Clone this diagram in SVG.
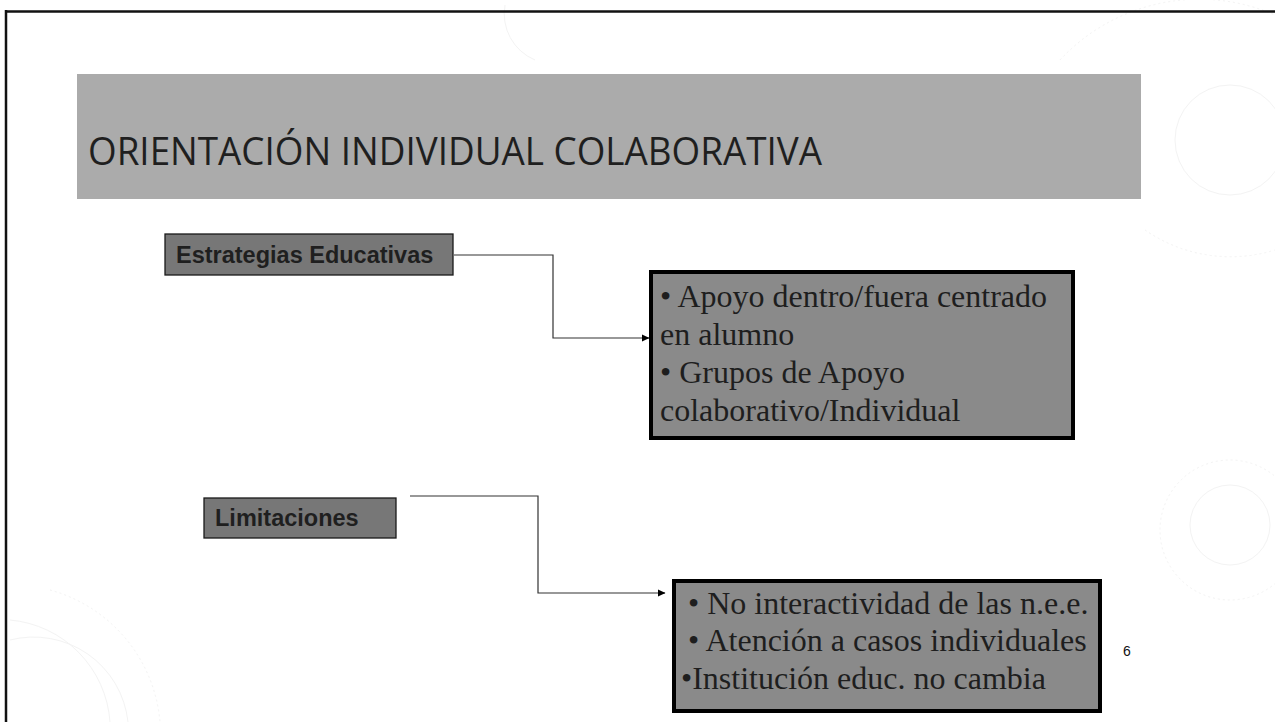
<svg xmlns="http://www.w3.org/2000/svg" width="1275" height="722" viewBox="0 0 1275 722">
  <defs>
    <style>
      .label { fill: #777777; stroke: #1a1a1a; stroke-width: 1.3; }
      .labeltext { font-family: "Liberation Sans", Arial, sans-serif; font-weight: bold; font-size: 23.5px; fill: #1f1f1f; }
      .box { fill: #8a8a8a; stroke: #000000; stroke-width: 4; }
      .boxtext { font-family: "Liberation Serif", "Times New Roman", serif; font-size: 32px; fill: #1e1e1e; }
      .conn { fill: none; stroke: #333333; stroke-width: 1.2; }
      .wm { fill: none; stroke: #f3f3f3; stroke-width: 1; }
    </style>
    <marker id="arrow" markerWidth="8" markerHeight="8" refX="7" refY="4" orient="auto" markerUnits="userSpaceOnUse">
      <path d="M0,0.5 L7.5,4 L0,7.5 Z" fill="#000000"/>
    </marker>
  </defs>

  <rect x="0" y="0" width="1275" height="722" fill="#ffffff"/>

  <!-- faint watermark -->
  <g id="watermark">
    <path class="wm" d="M505,5 A50,50 0 0 0 535,60"/>
    <path class="wm" d="M1060,60 A190,190 0 0 1 1275,15" stroke-dasharray="2 3"/>
    <circle class="wm" cx="1230" cy="140" r="55"/>
    <path class="wm" d="M1145,230 A150,150 0 0 0 1275,250" stroke-dasharray="2 3"/>
    <circle class="wm" cx="1230" cy="530" r="70" stroke-dasharray="2 3"/>
    <circle class="wm" cx="1230" cy="525" r="40"/>
    <path class="wm" d="M10,620 A110,110 0 0 1 110,722"/>
    <path class="wm" d="M10,640 A95,95 0 0 1 128,722"/>
    <path class="wm" d="M50,590 A150,150 0 0 1 160,722" stroke-dasharray="2 3"/>
  </g>

  <!-- slide frame -->
  <g id="frame">
    <line x1="5" y1="11.5" x2="1275" y2="11.5" stroke="#111111" stroke-width="2.5"/>
    <line x1="6" y1="10" x2="6" y2="722" stroke="#111111" stroke-width="2.5"/>
  </g>

  <!-- title band -->
  <g id="title">
    <rect x="77" y="74" width="1064" height="125" fill="#ababab"/>
    <text x="88" y="165" font-family="'Open Sans', 'Liberation Sans', sans-serif" font-size="38" fill="#1f1f1f" textLength="734" lengthAdjust="spacingAndGlyphs">ORIENTACIÓN INDIVIDUAL COLABORATIVA</text>
  </g>

  <!-- connectors -->
  <g id="connectors">
    <polyline class="conn" points="454,255 553,255 553,338 649,338" marker-end="url(#arrow)"/>
    <polyline class="conn" points="410,496 538,496 538,593 665,593" marker-end="url(#arrow)"/>
  </g>

  <g id="node-estrategias">
    <rect class="label" x="165" y="234" width="288" height="41"/>
    <text class="labeltext" x="176" y="263">Estrategias Educativas</text>
  </g>

  <g id="node-apoyo">
    <rect class="box" x="651" y="272" width="422" height="166"/>
    <text class="boxtext" x="660" y="307">• Apoyo dentro/fuera centrado</text>
    <text class="boxtext" x="660" y="345">en alumno</text>
    <text class="boxtext" x="660" y="383">• Grupos de Apoyo</text>
    <text class="boxtext" x="660" y="421">colaborativo/Individual</text>
  </g>

  <g id="node-limitaciones">
    <rect class="label" x="204" y="498" width="192" height="40"/>
    <text class="labeltext" x="215" y="526">Limitaciones</text>
  </g>

  <g id="node-limites">
    <rect class="box" x="674" y="581" width="426" height="130"/>
    <text class="boxtext" x="688" y="614">• No interactividad de las n.e.e.</text>
    <text class="boxtext" x="688" y="651">• Atención a casos individuales</text>
    <text class="boxtext" x="681" y="689">•Institución educ. no cambia</text>
  </g>

  <g id="page-number">
    <text x="1123" y="656" font-family="'Liberation Sans', Arial, sans-serif" font-size="14" fill="#111111">6</text>
  </g>
</svg>
